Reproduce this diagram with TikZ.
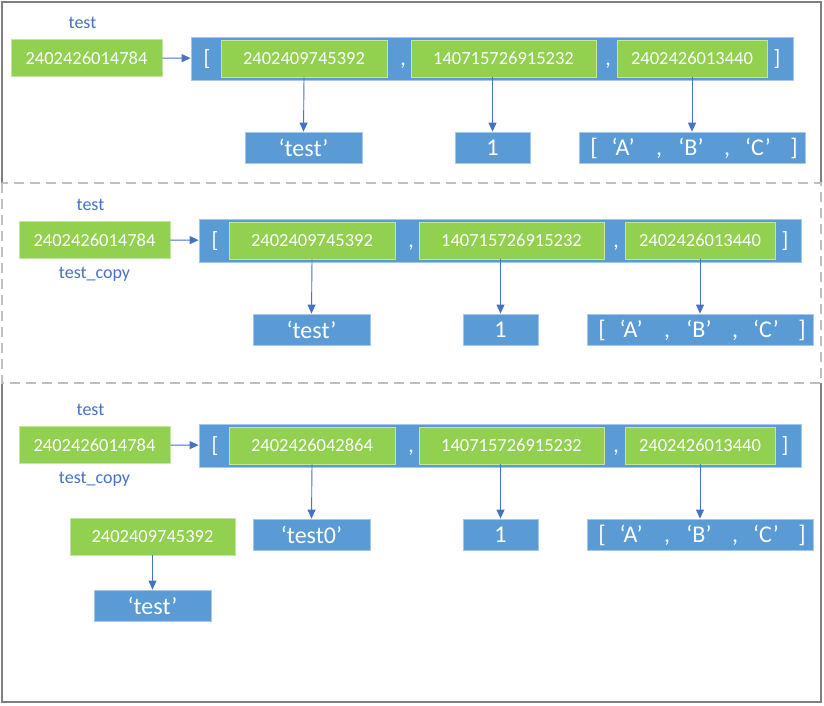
\documentclass[tikz,border=0pt]{standalone}
\usepackage{fontspec}
\setmainfont{Carlito}
\usetikzlibrary{arrows.meta}

\definecolor{cellgreen}{HTML}{92D050}
\definecolor{cellblue}{HTML}{5B9BD5}
\definecolor{linkblue}{HTML}{4472C4}
\definecolor{framegray}{HTML}{7F7F7F}
\definecolor{sepgray}{HTML}{BFBFBF}

\tikzset{
  greencell/.style={fill=cellgreen, draw=cellgreen!55!white, line width=0.8pt,
    text=white, font=\fontsize{18.5}{21}\selectfont, inner sep=0pt, minimum height=37pt},
  bluecell/.style={fill=cellblue, draw=cellblue!55!white, line width=0.8pt,
    text=white, font=\fontsize{24}{28}\selectfont, inner sep=0pt, minimum height=31pt},
  listbar/.style={fill=cellblue, draw=cellblue!55!white, line width=0.8pt,
    inner sep=0pt, minimum height=43pt, minimum width=602pt},
  punct/.style={text=white, font=\fontsize{22}{26}\selectfont, inner sep=0pt, anchor=base},
  valpunct/.style={text=white, font=\fontsize{24}{28}\selectfont, inner sep=0pt, anchor=base},
  varlabel/.style={text=linkblue, font=\fontsize{18}{21}\selectfont, inner sep=0pt},
  link/.style={draw=linkblue, line width=0.9pt, -{Triangle[length=9pt,width=8pt]}},
  solidframe/.style={draw=framegray, line width=1.6pt},
  dashframe/.style={draw=sepgray, line width=1.6pt, dash pattern=on 10pt off 6pt},
}

% One memory snapshot: variable -> list of three references -> values
% #1 suffix, #2 x shift, #3 y shift, #4 first element address, #5 first value
\newcommand{\memrow}[5]{%
  \begin{scope}[shift={(#2,#3)}]
    \node[varlabel] (name#1) at (82.5,23) {test};
    \node[greencell, minimum width=151pt] (var#1) at (86.5,58) {2402426014784};
    \node[listbar] (list#1) at (492,58.5) {};
    \node[greencell, minimum width=166pt] (ea#1) at (304,58.5) {#4};
    \node[greencell, minimum width=185pt] (eb#1) at (503.5,58.5) {140715726915232};
    \node[greencell, minimum width=150pt] (ec#1) at (692,58.5) {2402426013440};
    \node[punct] (lb#1) at (207,65.5) {[};
    \node[punct] (ca#1) at (403,65.5) {,};
    \node[punct] (cb#1) at (608,65.5) {,};
    \node[punct] (rb#1) at (777,65.5) {]};
    \node[bluecell, minimum width=117pt] (va#1) at (303.5,147.5) {#5};
    \node[bluecell, minimum width=75pt] (vb#1) at (492.5,147.5) {1};
    \node[bluecell, minimum width=226pt] (vc#1) at (692,147.5) {};
    \node[valpunct] (vlb#1) at (594,155.5) {[};
    \node[valpunct] (vA#1) at (623,155.5) {‘A’};
    \node[valpunct] (vca#1) at (659,155.5) {,};
    \node[valpunct] (vB#1) at (691,155.5) {‘B’};
    \node[valpunct] (vcb#1) at (727,155.5) {,};
    \node[valpunct] (vC#1) at (758,155.5) {‘C’};
    \node[valpunct] (vrb#1) at (794,155.5) {]};
    \draw[link] (var#1) -- (list#1);
    \draw[link] (ea#1.south) -- (va#1.north);
    \draw[link] (eb#1.south -| vb#1.north) -- (vb#1.north);
    \draw[link] (ec#1.south) -- (vc#1.north);
  \end{scope}}

\begin{document}
\begin{tikzpicture}[x=1pt, y=-1pt]
  \useasboundingbox (0,0) rectangle (824,705);

  % section frames
  \draw[solidframe] (2,183) -- (2,2) -- (821,2) -- (821,183);
  \draw[solidframe] (2,383) -- (2,702) -- (821,702) -- (821,383);
  \draw[dashframe] (2,183) rectangle (821,383);

  % original list
  \memrow{A}{0}{0}{2402409745392}{‘test’}

  % shallow copy: same list object
  \memrow{B}{8}{182}{2402409745392}{‘test’}
  \node[varlabel] (copyB) at (94.5,274) {test\_copy};

  % after reassigning the first element
  \memrow{C}{8}{387}{2402426042864}{‘test0’}
  \node[varlabel] (copyC) at (94.5,479) {test\_copy};
  \node[greencell, minimum width=165pt] (oldref) at (152.5,536.5) {2402409745392};
  \node[bluecell, minimum width=117pt] (oldval) at (152.5,605.5) {‘test’};
  \draw[link] (oldref) -- (oldval);
\end{tikzpicture}
\end{document}
